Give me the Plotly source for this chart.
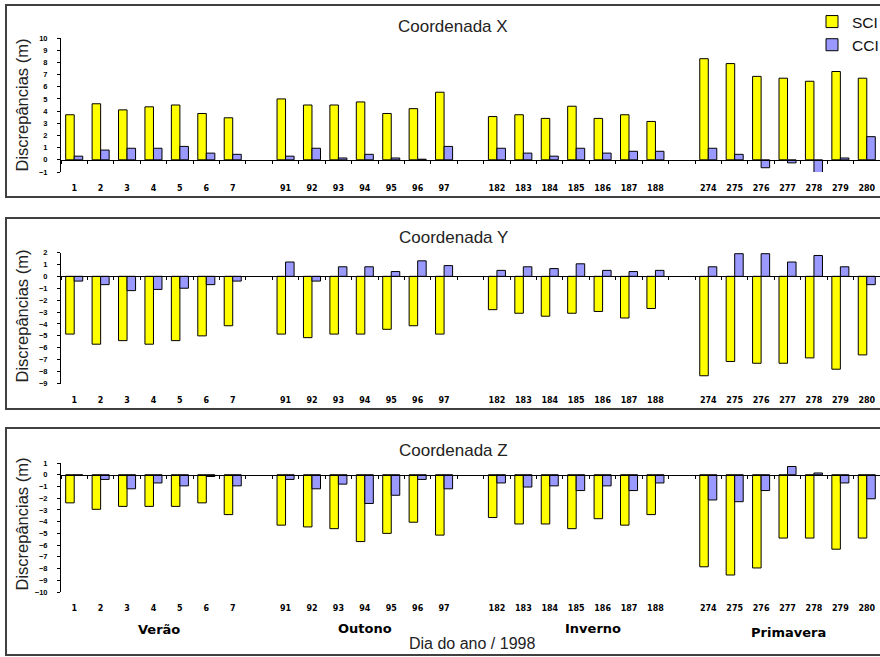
import plotly.graph_objects as go

# ---- data ----
dias = [1, 2, 3, 4, 5, 6, 7,
        91, 92, 93, 94, 95, 96, 97,
        182, 183, 184, 185, 186, 187, 188,
        274, 275, 276, 277, 278, 279, 280]
estacoes = ["Verão", "Outono", "Inverno", "Primavera"]

sci_x = [3.7, 4.6, 4.1, 4.35, 4.5, 3.8, 3.45,
         5.0, 4.5, 4.5, 4.75, 3.8, 4.2, 5.55,
         3.55, 3.7, 3.4, 4.4, 3.4, 3.7, 3.15,
         8.3, 7.9, 6.85, 6.7, 6.45, 7.25, 6.7]
cci_x = [0.3, 0.8, 0.95, 0.95, 1.1, 0.55, 0.45,
         0.3, 0.95, 0.15, 0.45, 0.15, 0.05, 1.1,
         0.95, 0.55, 0.3, 0.95, 0.55, 0.7, 0.7,
         0.95, 0.45, -0.65, -0.25, -1.05, 0.15, 1.9]
sci_y = [-4.85, -5.7, -5.4, -5.7, -5.4, -5.0, -4.15,
         -4.85, -5.15, -4.85, -4.85, -4.45, -4.15, -4.85,
         -2.8, -3.1, -3.35, -3.1, -2.95, -3.5, -2.7,
         -8.35, -7.15, -7.3, -7.3, -6.85, -7.8, -6.6]
cci_y = [-0.4, -0.7, -1.2, -1.1, -1.0, -0.7, -0.4,
         1.2, -0.4, 0.8, 0.8, 0.4, 1.3, 0.9,
         0.5, 0.8, 0.65, 1.05, 0.5, 0.4, 0.5,
         0.8, 1.9, 1.9, 1.2, 1.75, 0.8, -0.7]
sci_z = [-2.4, -2.95, -2.7, -2.7, -2.7, -2.4, -3.4,
         -4.3, -4.45, -4.6, -5.7, -5.0, -4.05, -5.15,
         -3.65, -4.2, -4.2, -4.6, -3.75, -4.3, -3.4,
         -7.85, -8.55, -7.95, -5.4, -5.4, -6.35, -5.4]
cci_z = [-0.05, -0.4, -1.2, -0.7, -0.95, -0.15, -0.95,
         -0.4, -1.2, -0.8, -2.45, -1.75, -0.4, -1.2,
         -0.7, -1.05, -0.95, -1.35, -0.95, -1.35, -0.7,
         -2.15, -2.3, -1.35, 0.7, 0.15, -0.7, -2.05]

series = [("X", sci_x, cci_x, [-1, 10]),
          ("Y", sci_y, cci_y, [-9, 2]),
          ("Z", sci_z, cci_z, [-10, 1])]

# ---- layout helpers ----
W, H = 880, 657
def py(p):
    return 1 - p / H
def px(p):
    return p / W

# category slots with one empty slot between seasons
pos = [(i // 7) * 8 + (i % 7) for i in range(len(dias))]
n_slots = 31
bounds = [k - 0.5 for k in range(n_slots + 1)]

panels = [
    dict(top=38, bottom=172, title_y=26, ytitle_y=105, box=(5, 197)),
    dict(top=252.5, bottom=383.5, title_y=237, ytitle_y=316, box=(218, 409)),
    dict(top=463, bottom=592, title_y=450, ytitle_y=524, box=(428, 655)),
]

YELLOW = "#FFFF00"
BLUE = "#9999FF"

fig = go.Figure()
layout = dict(
    width=W, height=H,
    margin=dict(l=0, r=0, t=0, b=0, autoexpand=False),
    paper_bgcolor="white", plot_bgcolor="white",
    barmode="group", bargap=0.355, bargroupgap=0,
    showlegend=True,
    legend=dict(x=px(812), y=py(5), xanchor="left", yanchor="top",
                font=dict(family="Liberation Sans, Arial", size=15.5, color="#111"),
                bgcolor="rgba(0,0,0,0)", itemwidth=30, tracegroupgap=0),
    font=dict(family="Liberation Sans, Arial", color="#111"),
)
annotations = []
shapes = []

xdom = [px(61), 1.0]
for i, (name, sci, cci, rng) in enumerate(series):
    k = i + 1
    sfx = "" if k == 1 else str(k)
    p = panels[i]
    d0, d1 = py(p["bottom"]), py(p["top"])
    zero = d0 + (0 - rng[0]) / (rng[1] - rng[0]) * (d1 - d0)

    fig.add_trace(go.Bar(x=pos, y=sci, name="SCI", marker=dict(color=YELLOW, line=dict(color="black", width=1)),
                         xaxis="x" + sfx, yaxis="y" + sfx, showlegend=(k == 1), legendgroup="SCI",
                         offsetgroup="SCI"))
    fig.add_trace(go.Bar(x=pos, y=cci, name="CCI", marker=dict(color=BLUE, line=dict(color="black", width=1)),
                         xaxis="x" + sfx, yaxis="y" + sfx, showlegend=(k == 1), legendgroup="CCI",
                         offsetgroup="CCI"))
    # dummy empty trace for the zero-line tick axis
    fig.add_trace(go.Scatter(x=[], y=[], xaxis="x" + str(k + 3), yaxis="y" + sfx,
                             showlegend=False, hoverinfo="skip"))

    layout["xaxis" + sfx] = dict(
        domain=xdom, anchor="y" + sfx, range=[-0.5, n_slots - 0.5],
        tickmode="array", tickvals=pos, ticktext=[str(d) for d in dias],
        ticks="", showline=False, showgrid=False, zeroline=False,
        tickfont=dict(family="DejaVu Sans", size=8, color="black", weight="bold"),
        ticklabelstandoff=10,
    )
    layout["xaxis" + str(k + 3)] = dict(
        overlaying="x" + sfx, anchor="free", position=zero,
        range=[-0.5, n_slots - 0.5], tickmode="array", tickvals=bounds,
        ticks="outside", ticklen=3, tickcolor="black", tickwidth=1,
        showticklabels=False, showline=True, linecolor="black", linewidth=1,
        showgrid=False, zeroline=False,
    )
    layout["yaxis" + sfx] = dict(
        domain=[d0, d1], anchor="x" + sfx, range=rng, dtick=1, tick0=0,
        ticks="outside", ticklen=3, tickcolor="black",
        showline=True, linecolor="black", linewidth=1,
        showgrid=False, zeroline=False,
        tickfont=dict(family="Liberation Sans, Arial", size=7.5, color="black", weight="bold"),
        ticklabelstandoff=8,
    )

    annotations.append(dict(text="Coordenada " + name, x=px(453), y=py(p["title_y"]),
                            xref="paper", yref="paper", showarrow=False,
                            xanchor="center", yanchor="middle",
                            font=dict(family="Liberation Sans, Arial", size=17, color="#222")))
    annotations.append(dict(text="Discrepâncias (m)", x=px(21.5), y=py(p["ytitle_y"]),
                            xref="paper", yref="paper", showarrow=False, textangle=-90,
                            xanchor="center", yanchor="middle",
                            font=dict(family="Liberation Sans, Arial", size=16.5, color="#222")))
    shapes.append(dict(type="rect", xref="paper", yref="paper",
                       x0=px(6), x1=1.05, y0=py(p["box"][1]), y1=py(p["box"][0]),
                       line=dict(color="#404040", width=2), fillcolor="rgba(0,0,0,0)",
                       layer="below"))

# season labels and x-axis title (bottom panel)
season_x = [159, 365, 593, 788]
season_y = [629, 628, 628, 632]
for s, sx, sy in zip(estacoes, season_x, season_y):
    annotations.append(dict(text=s, x=px(sx), y=py(sy), xref="paper", yref="paper",
                            showarrow=False, xanchor="center", yanchor="middle",
                            font=dict(family="DejaVu Sans", size=13, color="black", weight="bold")))
annotations.append(dict(text="Dia do ano / 1998", x=px(472), y=py(643), xref="paper", yref="paper",
                        showarrow=False, xanchor="center", yanchor="middle",
                        font=dict(family="Liberation Sans, Arial", size=16, color="#222")))

layout["annotations"] = annotations
layout["shapes"] = shapes
fig.update_layout(**layout)
fig.write_html("out.html")
